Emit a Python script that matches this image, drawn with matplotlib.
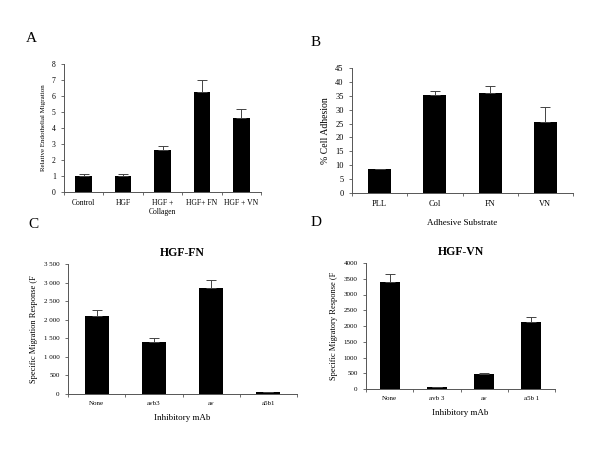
import numpy as np
import matplotlib
matplotlib.use('Agg')
import matplotlib.pyplot as plt

plt.rcParams['font.family'] = ['Liberation Serif', 'DejaVu Serif']

# Panel A
a_labels = ['Control', 'HGF', 'HGF +\nCollagen', 'HGF+ FN', 'HGF + VN']
a_values = [1.0, 1.0, 2.6, 6.25, 4.6]
a_errors = [0.15, 0.15, 0.3, 0.75, 0.6]

# Panel B
b_labels = ['PLL', 'Col', 'FN', 'VN']
b_values = [8.5, 35.3, 36.0, 25.5]
b_errors = [0.0, 1.3, 2.5, 5.5]

# Panel C
c_labels = ['None', 'avb3', 'av', 'a5b1']
c_values = [2100, 1400, 2850, 50]
c_errors = [170, 100, 230, 0]

# Panel D
d_labels = ['None', 'avb 3', 'av', 'a5b 1']
d_values = [3400, 60, 490, 2130]
d_errors = [250, 0, 30, 160]


def px_axes(fig, left, top, right, bottom):
    W, H = 600, 450
    return fig.add_axes([left / W, 1 - bottom / H, (right - left) / W, (bottom - top) / H])


def bar_panel(ax, labels, values, errors, ymax, ystep, tick_fs, fmt=None):
    x = np.arange(len(values))
    ax.bar(x, values, width=0.42, color='black', zorder=2)
    ax.errorbar(x, values, yerr=[np.zeros(len(values)), errors], fmt='none',
                ecolor='#444444', elinewidth=0.7, capsize=3.5, capthick=0.7, zorder=3)
    ax.set_xlim(-0.5, len(values) - 0.5)
    ax.set_ylim(0, ymax)
    ticks = np.arange(0, ymax + ystep / 2, ystep)
    ax.set_yticks(ticks)
    if fmt:
        ax.set_yticklabels([fmt(t) for t in ticks])
    ax.set_xticks(np.arange(-0.5, len(values) + 0.5, 1.0))
    ax.set_xticklabels([])
    ax.set_xticks(x, minor=True)
    ax.set_xticklabels(labels, minor=True, fontsize=tick_fs)
    ax.tick_params(axis='x', which='minor', length=0, pad=5)
    ax.tick_params(axis='x', which='major', length=2.5, width=0.6, direction='out', color='#555555')
    ax.tick_params(axis='y', length=2.5, width=0.6, direction='out', labelsize=tick_fs, color='#555555')
    for s in ['top', 'right']:
        ax.spines[s].set_visible(False)
    for s in ['left', 'bottom']:
        ax.spines[s].set_linewidth(0.7)
        ax.spines[s].set_color('#555555')


fig = plt.figure(figsize=(6, 4.5), dpi=100)

axA = px_axes(fig, 64, 64, 261, 192)
bar_panel(axA, a_labels, a_values, a_errors, 8, 1, 5.5)
axA.set_ylabel('Relative Endothelial Migration', fontsize=5)

axB = px_axes(fig, 352, 68, 573, 193)
bar_panel(axB, b_labels, b_values, b_errors, 45, 5, 6)
axB.set_ylabel('% Cell Adhesion', fontsize=7)
axB.set_xlabel('Adhesive Substrate', fontsize=6.5, labelpad=8)

axC = px_axes(fig, 68, 264, 297, 394)
bar_panel(axC, c_labels, c_values, c_errors, 3500, 500, 5,
          fmt=lambda t: f'{int(t):,}'.replace(',', ' '))
axC.set_ylabel('Specific Migration Response (F', fontsize=6)
axC.set_xlabel('Inhibitory mAb', fontsize=6.5, labelpad=6)
axC.set_title('HGF-FN', fontsize=8.5, fontweight='bold', pad=6)

axD = px_axes(fig, 366, 263, 555, 389)
bar_panel(axD, d_labels, d_values, d_errors, 4000, 500, 5)
axD.set_ylabel('Specific Migratory Response (F', fontsize=6)
axD.set_xlabel('Inhibitory mAb', fontsize=6.5, labelpad=6)
axD.set_title('HGF-VN', fontsize=8.5, fontweight='bold', pad=6)

fig.text(31 / 600, 1 - 38 / 450, 'A', fontsize=11, ha='center', va='center')
fig.text(316 / 600, 1 - 43 / 450, 'B', fontsize=11, ha='center', va='center')
fig.text(33 / 600, 1 - 225 / 450, 'C', fontsize=11, ha='center', va='center')
fig.text(316 / 600, 1 - 222 / 450, 'D', fontsize=11, ha='center', va='center')

fig.savefig('out.png', dpi=100)
